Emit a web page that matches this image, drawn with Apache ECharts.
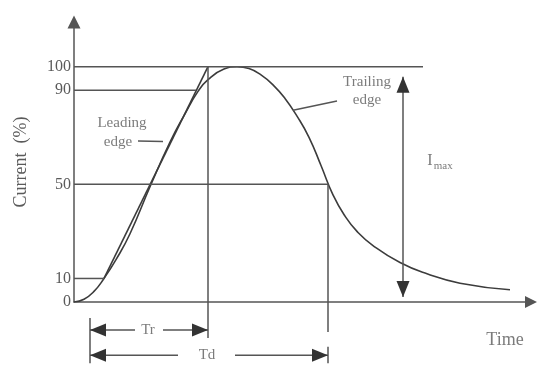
<!DOCTYPE html>
<html>
<head>
<meta charset="utf-8">
<script src="https://cdn.jsdelivr.net/npm/echarts@6/dist/echarts.min.js"></script>
<style>html,body{margin:0;padding:0;background:#fff}#c{width:539px;height:368px}</style>
</head>
<body>
<div id="c"></div>
<script>
// ---- data (time in arbitrary units, current in % of Imax) ----
const pulseTime    = [0, 10, 20, 30, 42, 56, 76, 96, 111, 124, 134, 150, 163, 175, 187, 199, 211, 223, 235, 247, 259, 271, 283, 299, 326, 353, 386, 436];
const pulseCurrent = [0, 1.2, 4.5, 10, 18, 29, 49, 68, 80, 89.5, 94.5, 99, 100, 99.2, 96.5, 92.3, 86.5, 79, 70, 58, 45.5, 36.5, 30, 24, 16.8, 12, 8, 5.2];
const rampTime     = [30, 134];
const rampCurrent  = [10, 100];
const yTicks       = [0, 10, 50, 90, 100];
// guide lines [x1, y1, x2, y2]
const guideLines = [
  [0, 100, 349, 100],
  [0, 90, 122, 90],
  [0, 50, 254, 50],
  [0, 10, 30, 10],
  [134, 100, 134, -15.3],
  [254, 50, 254, -12.8],
  [16, -6.8, 16, -26],
  [254, -19, 254, -26],
  [64, 68.4, 89, 68.2],
  [219, 81.5, 263, 85.4]
];
// dimension arrows [x1, y1, x2, y2, arrowAtStart, arrowAtEnd]
const dimArrows = [
  [16, -11.9, 61, -11.9, 'left', null],
  [89, -11.9, 134, -11.9, null, 'right'],
  [16, -22.6, 104, -22.6, 'left', null],
  [161, -22.6, 254, -22.6, null, 'right'],
  [329, 95.7, 329, 2.1, 'up', 'down']
];
// text annotations [x, y, text, fontSize]
const notes = [
  [48, 76.1, 'Leading', 15],
  [44, 68.0, 'edge', 15],
  [293, 93.5, 'Trailing', 15],
  [293, 85.8, 'edge', 15],
  [366, 60, 'I{sub|max}', 16],
  [74, -11.9, 'Tr', 15],
  [133, -22.6, 'Td', 15],
  [431, -16.1, 'Time', 18]
];

const FONT = 'Liberation Serif';
const LINE = '#555';
const CURVE = '#3c3c3c';
const TEXT = '#5a5a5a';

const arrowSpec = {
  left:  {rot: 90,  off: [8, 0],  size: [13, 16]},
  right: {rot: -90, off: [-8, 0], size: [13, 16]},
  up:    {rot: 0,   off: [0, 8],  size: [13, 16]},
  down:  {rot: 180, off: [0, -8], size: [13, 16]}
};
function pt(x, y, a) {
  if (!a) return {value: [x, y], symbol: 'none'};
  const s = arrowSpec[a];
  return {value: [x, y], symbol: 'triangle', symbolSize: s.size, symbolRotate: s.rot, symbolOffset: s.off};
}

const series = [];
series.push({
  type: 'line', name: 'pulse', smooth: 0.5, symbol: 'none',
  data: pulseTime.map((t, i) => [t, pulseCurrent[i]]),
  lineStyle: {color: CURVE, width: 1.6}
});
series.push({
  type: 'line', name: 'ramp', symbol: 'none',
  data: rampTime.map((t, i) => [t, rampCurrent[i]]),
  lineStyle: {color: CURVE, width: 1.6}
});
guideLines.forEach(g => series.push({
  type: 'line', symbol: 'none', clip: false,
  data: [[g[0], g[1]], [g[2], g[3]]],
  lineStyle: {color: LINE, width: 1.5}
}));
dimArrows.forEach(d => series.push({
  type: 'line', symbol: 'none', clip: false, showSymbol: true,
  data: [pt(d[0], d[1], d[4]), pt(d[2], d[3], d[5])],
  itemStyle: {color: '#333', borderWidth: 0},
  lineStyle: {color: LINE, width: 1.5}
}));
series.push({
  type: 'scatter', symbolSize: 0, clip: false,
  data: notes.map(n => ({value: [n[0], n[1]], name: n[2],
    label: {fontSize: n[3]}})),
  label: {
    show: true, position: 'inside', formatter: p => p.name,
    color: TEXT, fontFamily: FONT, fontSize: 15,
    rich: {sub: {fontSize: 11, fontFamily: FONT, color: TEXT, verticalAlign: 'bottom', padding: [10, 0, 0, 1]}}
  }
});

const chart = echarts.init(document.getElementById('c'), null, {renderer: 'canvas'});
chart.setOption({
  animation: false,
  backgroundColor: '#fff',
  grid: {left: 74, right: 8, top: 22, bottom: 66},
  xAxis: {
    type: 'value', min: 0, max: 457,
    axisLine: {show: true, onZero: false, symbol: ['none', 'triangle'], symbolSize: [12, 12],
      lineStyle: {color: LINE, width: 1.5}},
    axisTick: {show: false}, axisLabel: {show: false}, splitLine: {show: false}
  },
  yAxis: {
    type: 'value', min: 0, max: 119,
    name: 'Current  (%)', nameLocation: 'middle', nameGap: 44, nameRotate: 90,
    nameTextStyle: {fontFamily: FONT, fontSize: 18, color: TEXT},
    axisLine: {show: true, symbol: ['none', 'triangle'], symbolSize: [13, 13],
      lineStyle: {color: LINE, width: 1.5}},
    axisTick: {show: false}, splitLine: {show: false},
    axisLabel: {customValues: yTicks, margin: 3, fontFamily: FONT, fontSize: 16, color: TEXT}
  },
  series: series
});
</script>
</body>
</html>
